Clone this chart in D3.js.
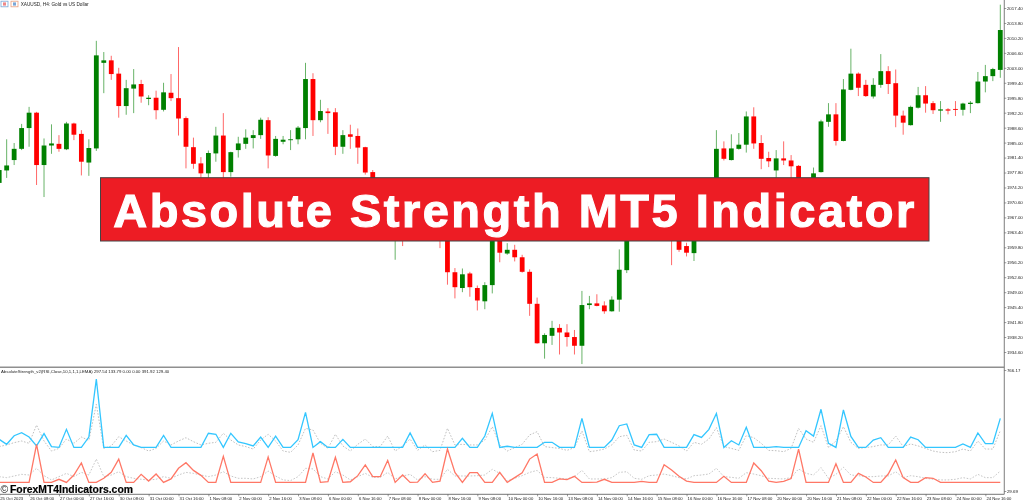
<!DOCTYPE html>
<html>
<head>
<meta charset="utf-8">
<title>Absolute Strength MT5 Indicator</title>
<script src="https://cdn.jsdelivr.net/npm/d3@7"></script>
<style>
html,body{margin:0;padding:0;background:#fff;overflow:hidden}
svg{display:block;font-family:"Liberation Sans",Arial,sans-serif;filter:blur(0.35px)}
</style>
</head>
<body>
<div id="chart"></div>
<script>
// XAUUSD H4 candles
const opens = [1975.3,1978.3,1980.8,1983.5,1988.5,1992.2,1979.6,1984.3,1984.7,1983.4,1989.6,1987.1,1980.2,1983.6,2004.2,2004.8,2001.6,1993.8,1998.0,1999.1,1995.5,1995.8,1992.9,1997.0,1995.7,1990.9,1983.9,1980.0,1977.6,1982.4,1986.7,1977.9,1983.2,1984.7,1986.1,1986.8,1990.4,1981.8,1985.2,1985.7,1985.8,1988.5,2000.3,1990.4,1992.5,1992.3,1984.0,1987.0,1986.6,1983.9,1977.9,1975.5,1972.4,1967.6,1970.0,1967.6,1965.9,1968.3,1965.0,1966.4,1964.0,1953.8,1950.0,1953.5,1950.0,1946.8,1950.7,1969.5,1958.3,1959.2,1957.4,1953.9,1946.2,1936.7,1938.5,1940.4,1939.3,1938.2,1936.1,1945.9,1946.3,1945.8,1944.4,1947.2,1954.3,1970.0,1966.9,1970.7,1968.3,1972.4,1967.6,1963.5,1960.1,1958.4,1962.0,1966.4,1968.8,1983.6,1980.8,1983.5,1984.5,1991.3,1984.9,1981.3,1978.3,1981.2,1980.7,1979.4,1974.8,1972.4,1977.9,1990.0,1991.8,1985.4,1997.7,2001.6,1998.9,1996.1,1998.9,2002.2,1999.3,1991.5,1989.2,1993.4,1996.4,1994.5,1992.7,1993.0,1993.1,1992.9,1994.3,1994.5,1999.7,2001.0,2002.5];
const closes = [1978.4,1979.5,1983.5,1988.5,1992.2,1979.6,1984.3,1984.8,1983.5,1989.6,1986.9,1980.4,1983.7,2006.0,2004.8,2001.5,1993.8,1998.1,1999.0,1996.1,1995.8,1992.8,1997.1,1995.7,1990.8,1984.0,1979.9,1977.6,1982.5,1986.7,1977.9,1982.7,1984.8,1986.2,1986.8,1990.5,1981.9,1985.9,1985.7,1985.8,1988.6,2000.3,1990.4,1992.6,1992.1,1984.0,1986.8,1986.4,1983.8,1977.8,1975.5,1972.4,1968.8,1970.0,1967.6,1965.9,1968.3,1965.2,1966.9,1963.5,1953.8,1950.2,1953.3,1950.2,1947.0,1950.7,1969.5,1958.5,1959.2,1957.4,1953.9,1946.2,1936.7,1938.7,1940.4,1939.3,1938.2,1936.1,1945.9,1946.3,1945.7,1944.4,1947.2,1954.4,1970.0,1966.9,1970.7,1968.3,1972.4,1967.6,1963.5,1959.2,1958.5,1962.0,1966.4,1968.8,1983.5,1981.1,1983.6,1984.5,1991.3,1984.8,1981.1,1980.5,1981.2,1980.7,1979.3,1974.8,1972.4,1977.6,1990.1,1991.8,1985.4,1997.8,2001.6,1998.2,1996.2,1998.9,2002.2,1999.1,1991.5,1989.8,1993.6,1996.4,1994.4,1992.8,1993.0,1992.7,1992.9,1994.4,1994.6,1999.7,2001.0,2002.7,2012.1];
const highs = [1978.9,1985.8,1984.9,1989.5,1993.6,1992.4,1986.0,1989.4,1986.8,1990.0,1989.8,1988.0,1985.8,2009.5,2006.8,2005.9,2003.0,2000.1,2002.7,2000.1,1996.4,1997.5,1999.4,2001.5,2008.0,1991.3,1986.2,1981.5,1983.1,1988.8,1992.1,1982.8,1986.4,1988.2,1988.0,1991.0,1991.1,1986.6,1986.6,1988.0,1989.0,2004.2,2001.7,1995.3,1993.3,1993.3,1988.0,1989.3,1988.4,1984.0,1978.4,1976.0,1972.9,1971.2,1971.2,1968.3,1970.0,1969.3,1967.6,1967.6,1964.5,1954.8,1954.7,1953.9,1950.6,1951.4,1971.2,1970.5,1960.8,1960.4,1958.0,1954.5,1947.7,1939.1,1942.1,1941.3,1941.3,1939.9,1949.3,1948.1,1948.5,1946.8,1948.0,1959.3,1971.2,1971.2,1971.7,1972.4,1973.6,1973.6,1970.0,1964.5,1960.9,1963.5,1967.6,1970.0,1988.0,1985.3,1987.0,1987.3,1992.5,1993.5,1986.8,1982.8,1983.2,1985.3,1982.0,1979.6,1975.5,1979.0,1990.5,1994.5,1994.5,2000.3,2007.6,2001.9,2000.1,2000.5,2006.3,2003.4,2002.6,1992.7,1993.9,1998.4,1998.6,1995.0,1995.0,1993.3,1995.0,1994.6,1995.0,2002.0,2003.7,2003.0,2018.2];
const lows = [1974.6,1976.5,1979.6,1983.2,1984.0,1974.8,1971.9,1982.3,1982.8,1983.2,1985.6,1977.1,1977.0,1983.0,1996.9,2000.1,1991.0,1991.7,1992.1,1994.6,1994.0,1990.6,1992.5,1995.0,1986.7,1978.8,1978.7,1976.0,1976.0,1980.4,1975.5,1976.8,1981.4,1983.5,1983.6,1985.9,1978.8,1981.6,1984.6,1983.2,1984.6,1985.8,1986.6,1989.9,1987.1,1982.0,1982.3,1983.5,1979.9,1977.3,1974.6,1971.2,1967.6,1956.8,1960.1,1964.9,1965.2,1964.0,1964.0,1959.6,1950.8,1947.5,1949.0,1947.9,1944.6,1944.9,1948.7,1956.2,1958.0,1956.4,1953.7,1943.3,1936.6,1933.0,1936.3,1934.0,1935.9,1934.0,1931.7,1944.9,1945.6,1943.8,1944.3,1944.3,1953.6,1965.9,1966.4,1967.4,1967.8,1966.4,1955.5,1958.7,1957.6,1956.5,1961.6,1965.2,1968.3,1980.7,1980.7,1983.3,1982.6,1983.5,1978.6,1979.1,1976.0,1979.6,1976.0,1973.6,1971.2,1971.7,1977.8,1988.8,1984.3,1985.3,1997.6,1996.2,1996.0,1995.6,1998.2,1996.7,1988.7,1986.9,1989.1,1993.2,1992.2,1991.9,1990.0,1991.8,1991.4,1991.5,1992.1,1994.4,1997.1,1999.8,2000.6];

const priceTicks = [2017.4,2013.8,2010.2,2006.6,2003.0,1999.4,1995.8,1992.2,1988.6,1985.0,1981.4,1977.8,1974.2,1970.6,1967.0,1963.4,1959.8,1956.2,1952.6,1949.0,1945.4,1941.8,1938.2,1934.6];

// Absolute strength indicator lines
const bulls = [344,314,366,385,358,304,379,300,295,405,295,295,358,711,295,295,295,368,310,295,295,295,368,295,295,295,295,295,381,375,295,381,328,318,304,358,295,364,295,295,342,508,295,330,295,295,344,295,295,295,295,295,295,295,295,383,295,295,295,295,295,295,350,295,295,364,502,295,302,295,295,295,295,326,326,295,295,295,472,295,295,295,340,427,438,310,295,373,375,295,295,295,295,373,356,405,502,295,336,310,417,295,295,295,300,295,295,295,397,364,527,320,295,523,362,295,295,340,354,295,295,295,358,342,295,295,295,295,295,316,295,383,318,318,472];
const bears = [82,82,82,82,82,314,82,82,101,82,127,200,82,82,107,143,224,82,82,131,90,133,82,103,168,202,155,125,82,82,241,82,82,82,82,82,237,82,82,82,82,82,261,82,86,235,82,86,123,188,117,117,216,82,127,82,84,135,82,90,285,143,82,141,141,82,82,143,82,111,141,224,255,82,82,103,99,119,82,82,84,101,82,82,82,82,88,82,82,190,158,119,90,82,82,82,82,119,82,82,82,200,153,90,82,88,105,285,82,82,82,82,196,82,82,137,115,82,82,133,218,111,82,82,111,107,82,82,82,82,82,82,82,82,82];
const signalUp = [300,310,324,334,320,431,334,273,289,346,320,358,338,557,289,304,360,334,310,294,273,289,334,310,334,354,330,310,320,326,381,340,310,300,285,340,375,334,273,265,310,411,401,320,289,375,304,273,314,346,300,300,364,273,304,346,277,310,269,277,411,310,314,310,310,340,421,310,273,294,314,371,391,300,294,289,277,294,395,269,275,285,310,360,369,279,273,326,330,346,326,304,273,326,314,346,415,300,289,277,367,354,320,277,275,269,289,411,346,326,427,294,334,421,326,289,294,300,310,310,364,300,316,304,289,273,265,263,269,285,273,334,285,285,397];
const signalDown = [117,111,121,131,127,168,123,97,117,137,117,143,127,224,117,127,147,117,107,101,97,101,117,107,127,143,137,127,117,127,147,121,107,107,103,117,151,121,97,93,117,168,164,117,103,147,127,97,117,137,113,113,143,103,121,131,97,117,101,101,162,121,121,121,123,127,162,137,91,107,123,143,155,113,111,107,103,117,155,103,103,103,111,143,147,107,101,123,127,133,123,111,103,123,127,133,168,117,113,107,141,133,123,107,105,103,111,164,137,127,172,107,131,174,127,123,117,117,121,121,147,111,123,117,107,101,97,97,101,111,103,131,111,111,151];
const panelTicks = [766.17,29.69];

const timeLabels = ['25 Oct 2023','26 Oct 08:00','27 Oct 00:00','27 Oct 16:00','30 Oct 08:00','31 Oct 00:00','31 Oct 16:00','1 Nov 08:00','2 Nov 00:00','2 Nov 16:00','3 Nov 08:00','6 Nov 00:00','6 Nov 16:00','7 Nov 08:00','8 Nov 00:00','8 Nov 16:00','9 Nov 08:00','10 Nov 00:00','10 Nov 16:00','13 Nov 08:00','14 Nov 00:00','14 Nov 16:00','15 Nov 08:00','16 Nov 00:00','16 Nov 16:00','17 Nov 08:00','20 Nov 00:00','20 Nov 16:00','21 Nov 08:00','22 Nov 00:00','22 Nov 16:00','23 Nov 08:00','24 Nov 00:00','24 Nov 16:00'];

const width = 1024, height = 503;
const svg = d3.select('#chart').append('svg').attr('width',width).attr('height',height);

const x = d3.scaleLinear().domain([0,134]).range([-0.8,1000.3]);
const yPrice = d3.scaleLinear().domain([1934.6,2017.4]).range([352,8]);
const yPanel = d3.scaleLinear().domain([29.69,766.17]).range([491,370]);

const axisX = 1004.3, panelTop = 367.3, panelBottom = 494.3;
const bars = d3.range(opens.length);

// wicks, then bodies
const up = i => closes[i] >= opens[i];
svg.append('g').selectAll('line').data(bars).enter().append('line')
    .attr('x1',i=>x(i)).attr('x2',i=>x(i))
    .attr('y1',i=>yPrice(highs[i])).attr('y2',i=>yPrice(lows[i]))
    .attr('stroke',i=>up(i)?'#008000':'#ff0000').attr('stroke-width',0.6);
svg.append('g').selectAll('rect').data(bars).enter().append('rect')
    .attr('x',i=>x(i)-2.4).attr('width',4.8)
    .attr('y',i=>yPrice(Math.max(opens[i],closes[i])))
    .attr('height',i=>Math.max(0.9,Math.abs(yPrice(opens[i])-yPrice(closes[i]))))
    .attr('fill',i=>up(i)?'#008000':'#ff0000');

// indicator panel
const line = d3.line().x((d,i)=>x(i)).y(d=>yPanel(d));
[[signalUp,'#b0b0b0',0.8,'1.6 1.6'],[signalDown,'#b8b8b8',0.8,'1.6 1.6'],[bulls,'#33c6ff',1.3,null],[bears,'#ff7766',1.3,null]].forEach(s=>{
    svg.append('path').attr('d',line(s[0])).attr('fill','none')
        .attr('stroke',s[1]).attr('stroke-width',s[2]).attr('stroke-dasharray',s[3]);
});

// frame lines
svg.append('line').attr('x1',0).attr('x2',axisX).attr('y1',panelTop).attr('y2',panelTop).attr('stroke','#8f8f8f').attr('stroke-width',1.6);
svg.append('line').attr('x1',0).attr('x2',axisX).attr('y1',panelBottom).attr('y2',panelBottom).attr('stroke','#666').attr('stroke-width',0.9);
svg.append('line').attr('x1',axisX).attr('x2',axisX).attr('y1',0).attr('y2',panelBottom).attr('stroke','#888').attr('stroke-width',1.1);

// axes
function styleAxis(g,size){
    g.select('.domain').remove();
    g.selectAll('line').attr('stroke','#555').attr('stroke-width',0.6);
    g.selectAll('text').attr('font-family','"Liberation Sans",Arial,sans-serif').attr('font-size',size).attr('fill','#222');
}
svg.append('g').attr('transform','translate('+axisX+',0)')
    .call(d3.axisRight(yPrice).tickValues(priceTicks).tickFormat(d3.format('.2f')).tickSize(2).tickPadding(0.6))
    .call(styleAxis,4.4);
svg.append('g').attr('transform','translate('+axisX+',0)')
    .call(d3.axisRight(yPanel).tickValues(panelTicks).tickFormat(d3.format('.2f')).tickSize(2).tickPadding(0.6))
    .call(styleAxis,4.4);
const timeAxis = svg.append('g').attr('transform','translate(0,'+panelBottom+')')
    .call(d3.axisBottom(x).tickValues(timeLabels.map((d,i)=>i*4)).tickFormat(d=>timeLabels[d/4]).tickSize(2).tickPadding(0.5))
    .call(styleAxis,4.2);
timeAxis.selectAll('text').attr('text-anchor','start').attr('dx',0.6);

// chart captions
const icons = svg.append('g');
[[1,'#7aa7d8','#e88'],[11,'#e8a080','#7aa7d8']].forEach(k=>{
    icons.append('rect').attr('x',k[0]).attr('y',1.2).attr('width',7).attr('height',5.6).attr('fill','#fff').attr('stroke',k[1]).attr('stroke-width',0.8);
    icons.append('rect').attr('x',k[0]+2).attr('y',2.4).attr('width',3).attr('height',3.2).attr('fill',k[2]);
});
svg.append('text').attr('x',20.7).attr('y',5.9).attr('font-size',4.7).attr('fill','#222').text('XAUUSD, H4:  Gold vs US Dollar');
svg.append('text').attr('x',1).attr('y',373.4).attr('font-size',4.3).attr('fill','#222')
    .text('AbsoluteStrength_v2(RSI,Close,10,1,1,1,LEMA) 297.54 133.79 0.00 0.00 391.92 129.40');

// title banner
svg.append('rect').attr('x',100.5).attr('y',177.7).attr('width',828.5).attr('height',63.3)
    .attr('fill','#ed1c24').attr('stroke','#444').attr('stroke-width',1);
svg.append('text').attr('x',515).attr('y',227.3).attr('text-anchor','middle')
    .attr('font-size',47).attr('font-weight','bold').attr('letter-spacing',2.5)
    .attr('fill','#fff').attr('stroke','#fff').attr('stroke-width',1.1)
    .text('Absolute Strength MT5 Indicator');

// watermark
svg.append('text').attr('x',0.5).attr('y',493.3).attr('font-size',10.5).attr('fill','#222').text('©');
svg.append('text').attr('x',10).attr('y',493.3).attr('font-size',10.4).attr('font-weight','bold')
    .attr('fill','#000').attr('stroke','#000').attr('stroke-width',0.2)
    .text('ForexMT4Indicators.com');
</script>
</body>
</html>
